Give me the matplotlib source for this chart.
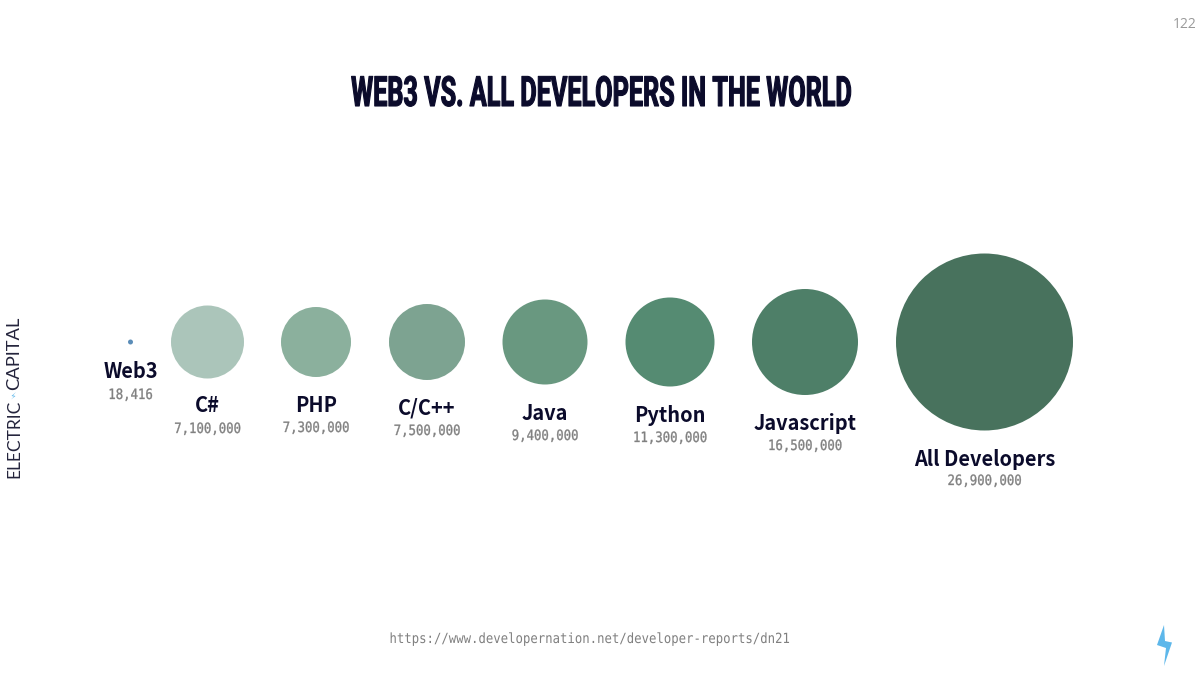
import matplotlib
matplotlib.use("Agg")
import matplotlib.pyplot as plt
from matplotlib.patches import Circle, Polygon
from matplotlib.patheffects import AbstractPathEffect
from matplotlib.transforms import Affine2D

languages = ["Web3", "C#", "PHP", "C/C++", "Java", "Python", "Javascript", "All Developers"]
developers = [18416, 7100000, 7300000, 7500000, 9400000, 11300000, 16500000, 26900000]

centers_x = [130.5, 207.5, 316, 427, 545, 670, 805, 984.5]
radii_px = [2.5, 36.5, 35, 38, 42.5, 44.5, 53, 88.5]
colors = ["#5b8db8", "#abc5ba", "#8bb09d", "#7da391", "#699880", "#558b72", "#4e7f68", "#48725d"]
name_y = [372, 406, 405, 408, 414, 415, 423, 459.5]
value_y = [395, 429, 428, 431, 436, 438, 446, 481]

CENTER_Y = 342
NAVY = "#0b0b2b"
GRAY = "#808080"
BOLT = "#5db7ea"


class Condense(AbstractPathEffect):
    """Squeeze a text horizontally around a pixel column, optionally thickening it."""

    def __init__(self, sx, cx, stroke=0.0):
        super().__init__()
        self.sx, self.cx, self.stroke = sx, cx, stroke

    def draw_path(self, renderer, gc, tpath, affine, rgbFace=None):
        t = affine + Affine2D().translate(-self.cx, 0).scale(self.sx, 1).translate(self.cx, 0)
        if self.stroke > 0:
            gc0 = renderer.new_gc()
            gc0.copy_properties(gc)
            gc0.set_linewidth(self.stroke)
            gc0.set_foreground(rgbFace)
            renderer.draw_path(gc0, tpath, t, rgbFace)
            gc0.restore()
        else:
            renderer.draw_path(gc, tpath, t, rgbFace)


fig = plt.figure(figsize=(12, 6.81), dpi=100)
ax = fig.add_axes([0, 0, 1, 1])
ax.set_xlim(0, 1200)
ax.set_ylim(681, 0)
ax.axis("off")

for x, r, c, name, val, ny, vy in zip(centers_x, radii_px, colors, languages, developers, name_y, value_y):
    ax.add_patch(Circle((x, CENTER_Y), r, facecolor=c, edgecolor="none"))
    ax.text(x, ny, name, ha="center", va="center", fontsize=14.4, color=NAVY,
            family=["Noto Sans CJK SC", "DejaVu Sans"], fontweight="bold")
    t = ax.text(x, vy, f"{val:,}", ha="center", va="center", fontsize=10.2, color=GRAY,
                family=["DejaVu Sans Mono"])
    t.set_path_effects([Condense(0.87, x, 0.25)])

title = ax.text(601, 94.5, "WEB3 VS. ALL DEVELOPERS IN THE WORLD", ha="center", va="center",
                fontsize=30, color=NAVY, family=["Roboto", "DejaVu Sans"], fontweight="bold")
title.set_path_effects([Condense(0.605, 601, 0.8)])

ax.text(1185, 24, "122", ha="center", va="center", fontsize=10, color="#999999", family=["Open Sans"])
url = ax.text(588, 639, "https://www.developernation.net/developer-reports/dn21", ha="center", va="center",
              fontsize=10.1, color=GRAY, family=["DejaVu Sans Mono"])
url.set_path_effects([Condense(0.878, 588)])

# Vertical wordmark
for word, y0, size in [("ELECTRIC", 478, 12.5), ("CAPITAL", 390, 13.2)]:
    ax.text(14, y0, word, rotation=90, ha="left", va="center", fontsize=size, color="#24243c",
            family=["Lato"], rotation_mode="anchor")
ax.add_patch(Polygon([(16, 392), (11.5, 396), (14, 396.5), (11, 399.5), (15.5, 396), (13, 395.5)],
                     closed=True, facecolor=BOLT, edgecolor="none"))

# Corner bolt
ax.add_patch(Polygon([(1164, 625), (1157, 645), (1166, 648), (1164, 666), (1172, 642.5), (1165, 641)],
                     closed=True, facecolor=BOLT, edgecolor="none"))

fig.savefig("out.png", dpi=100, facecolor="white")
